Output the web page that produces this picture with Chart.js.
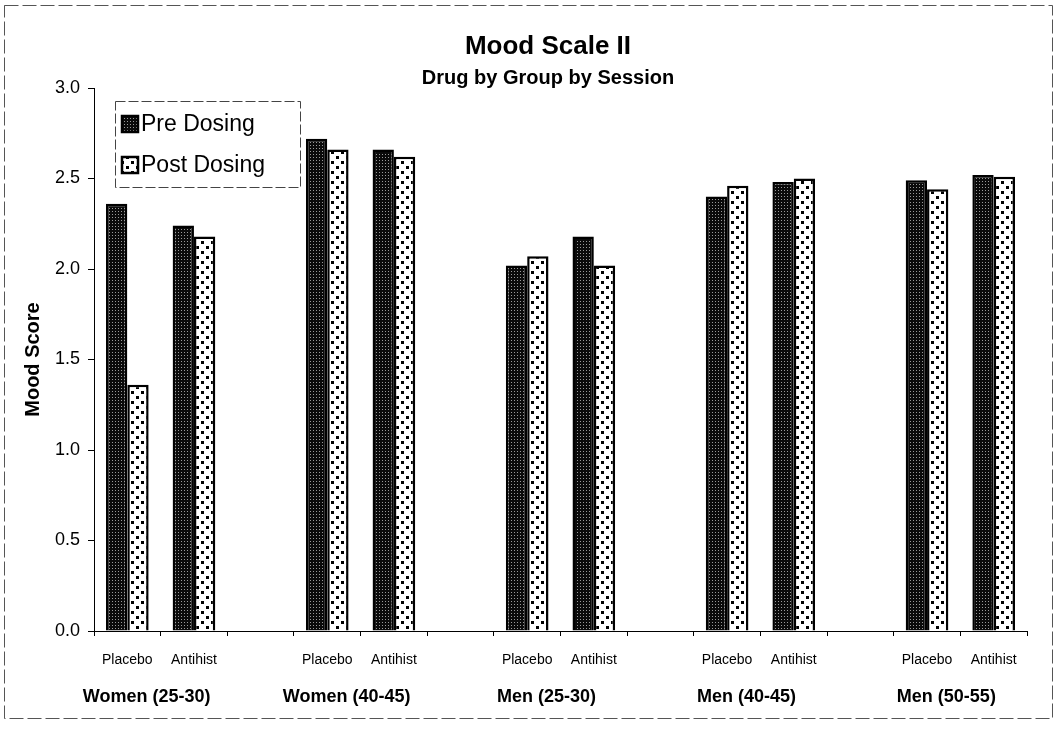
<!DOCTYPE html>
<html>
<head>
<meta charset="utf-8">
<script src="https://cdn.jsdelivr.net/npm/chart.js@4"></script>
<style>
  body { margin: 0; background: #fff; }
  #wrap { width: 1061px; height: 730px; position: relative; }
</style>
</head>
<body>
<div id="wrap"><canvas id="chart" width="1061" height="730"></canvas></div>
<script>
// categories along the x axis, empty strings are the gaps between groups
let categories = ['Placebo', 'Antihist', '', 'Placebo', 'Antihist', '', 'Placebo', 'Antihist', '',
                  'Placebo', 'Antihist', '', 'Placebo', 'Antihist'];
let groups = ['Women (25-30)', 'Women (40-45)', 'Men (25-30)', 'Men (40-45)', 'Men (50-55)'];
let preDosing  = [2.36, 2.24, null, 2.72, 2.66, null, 2.02, 2.18, null, 2.40, 2.48, null, 2.49, 2.52];
let postDosing = [1.36, 2.18, null, 2.66, 2.62, null, 2.07, 2.02, null, 2.46, 2.50, null, 2.44, 2.51];
let yTicks = [0, 0.5, 1.0, 1.5, 2.0, 2.5, 3.0];

const FONT = '"Liberation Sans", Arial, Helvetica, sans-serif';

// dark mesh fill for pre dosing
function prePattern() {
    let c = document.createElement('canvas');
    c.width = 3; c.height = 3;
    let g = c.getContext('2d');
    g.fillStyle = '#0a0a0a';
    g.fillRect(0, 0, 3, 3);
    g.fillStyle = '#999';
    g.fillRect(1, 1, 1, 1);
    return g.createPattern(c, 'repeat');
}

// white fill with black dots for post dosing
function postPattern() {
    let c = document.createElement('canvas');
    c.width = 10; c.height = 10;
    let g = c.getContext('2d');
    g.fillStyle = '#fff';
    g.fillRect(0, 0, 10, 10);
    g.fillStyle = '#000';
    g.fillRect(1, 1, 3, 3);
    g.fillRect(6, 6, 3, 3);
    return g.createPattern(c, 'repeat');
}

let preFill = prePattern();
let postFill = postPattern();

let extras = {
    id: 'extras',
    afterDraw(chart) {
        let ctx = chart.ctx;
        let x = chart.scales.x;
        ctx.save();

        // outer frame
        ctx.strokeStyle = '#555';
        ctx.lineWidth = 1;
        ctx.setLineDash([14, 4]);
        ctx.strokeRect(4.5, 5.5, 1048, 713);
        ctx.setLineDash([]);

        // titles
        ctx.fillStyle = '#000';
        ctx.textAlign = 'center';
        ctx.textBaseline = 'middle';
        ctx.font = 'bold 26px ' + FONT;
        ctx.fillText('Mood Scale II', 548, 47);
        ctx.font = 'bold 20px ' + FONT;
        ctx.fillText('Drug by Group by Session', 548, 78);

        // group labels under each Placebo/Antihist pair
        ctx.font = 'bold 18px ' + FONT;
        groups.forEach((name, i) => {
            let mid = (x.getPixelForValue(i * 3) + x.getPixelForValue(i * 3 + 1)) / 2;
            ctx.fillText(name, mid - 14, 697);
        });

        // legend box
        let lx = 115, ly = 101, lw = 185, lh = 86;
        ctx.fillStyle = '#fff';
        ctx.fillRect(lx, ly, lw, lh);
        ctx.strokeStyle = '#444';
        ctx.lineWidth = 1;
        ctx.setLineDash([10, 3]);
        ctx.strokeRect(lx + 0.5, ly + 0.5, lw, lh);
        ctx.setLineDash([]);

        let items = [
            { label: chart.data.datasets[0].label, fill: preFill, y: 124 },
            { label: chart.data.datasets[1].label, fill: postFill, y: 165 }
        ];
        ctx.font = '23px ' + FONT;
        ctx.textAlign = 'left';
        items.forEach(it => {
            ctx.fillStyle = it.fill;
            ctx.fillRect(122, it.y - 8, 16, 16);
            ctx.strokeStyle = '#000';
            ctx.lineWidth = 2.5;
            ctx.strokeRect(122, it.y - 8, 16, 16);
            ctx.fillStyle = '#000';
            ctx.fillText(it.label, 141, it.y + 1);
        });
        ctx.restore();
    }
};

new Chart(document.getElementById('chart'), {
    type: 'bar',
    data: {
        labels: categories,
        datasets: [
            {
                label: 'Pre Dosing',
                data: preDosing,
                backgroundColor: preFill,
                borderColor: '#000',
                borderWidth: 2.5,
                categoryPercentage: 0.64,
                barPercentage: 1.0
            },
            {
                label: 'Post Dosing',
                data: postDosing,
                backgroundColor: postFill,
                borderColor: '#000',
                borderWidth: 2.5,
                categoryPercentage: 0.64,
                barPercentage: 1.0
            }
        ]
    },
    options: {
        responsive: false,
        animation: false,
        layout: { padding: { top: 88, right: 34, bottom: 0, left: 0 } },
        plugins: {
            legend: { display: false },
            tooltip: { enabled: false }
        },
        scales: {
            x: {
                afterFit: s => { s.height = 99; },
                grid: { drawOnChartArea: false, offset: true, tickLength: 5, color: '#000' },
                border: { color: '#000', width: 1 },
                ticks: {
                    color: '#000',
                    padding: 16,
                    maxRotation: 0,
                    autoSkip: false,
                    font: { family: FONT, size: 14 }
                }
            },
            y: {
                min: 0,
                max: 3,
                afterFit: s => { s.width = 94; },
                afterBuildTicks: s => { s.ticks = yTicks.map(v => ({ value: v })); },
                grid: { drawOnChartArea: false, tickLength: 6, color: '#000' },
                border: { color: '#000', width: 1 },
                ticks: {
                    color: '#000',
                    padding: 8,
                    font: { family: FONT, size: 18 },
                    callback: v => v.toFixed(1)
                },
                title: {
                    display: true,
                    text: 'Mood Score',
                    color: '#000',
                    padding: { top: 21, bottom: 0 },
                    font: { family: FONT, size: 20, weight: 'bold' }
                }
            }
        }
    },
    plugins: [extras]
});
</script>
</body>
</html>
